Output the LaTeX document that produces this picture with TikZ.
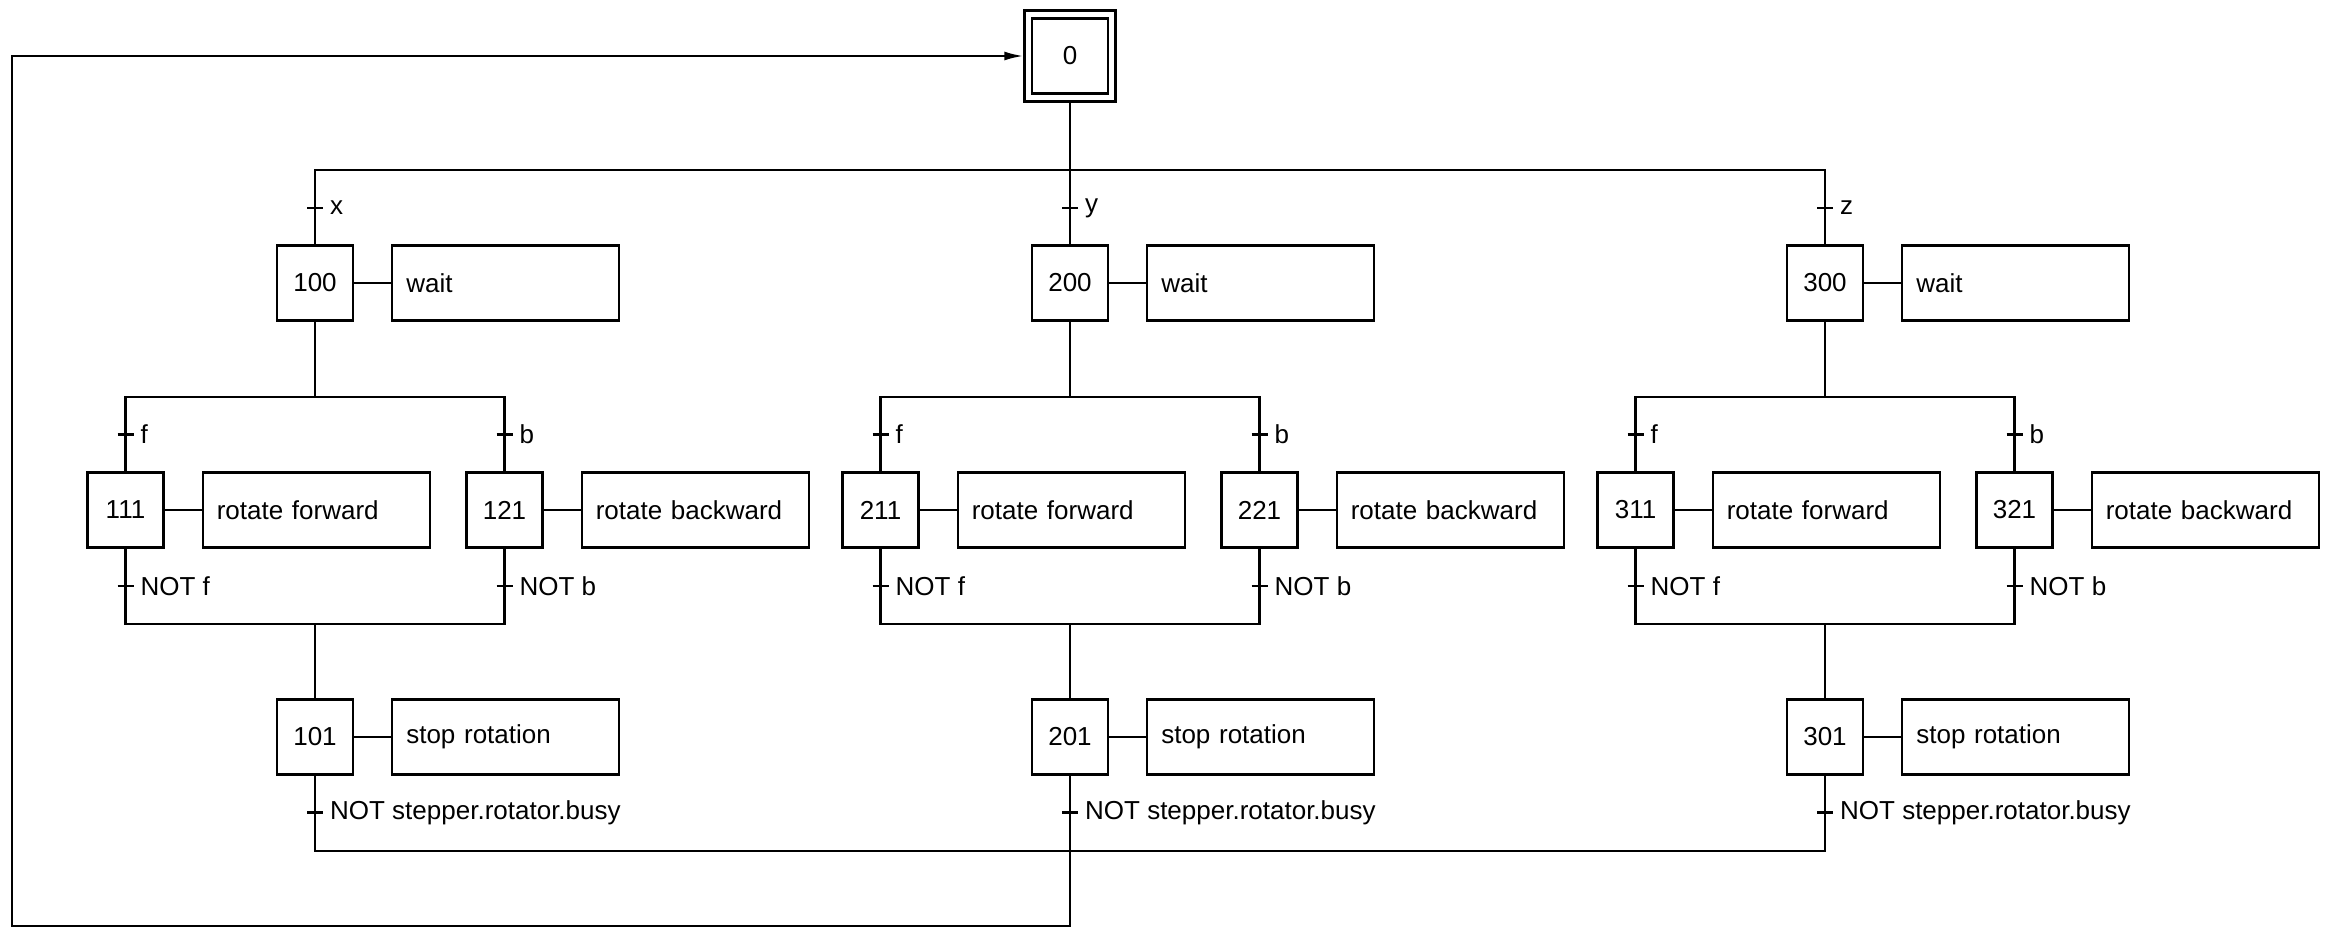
\documentclass[tikz,border=0pt]{standalone}
\usepackage{fontspec}
\setmainfont{Liberation Sans}
\usetikzlibrary{positioning,arrows.meta}
\tikzset{
  stepbox/.style={draw,minimum width=38pt,minimum height=37.5pt,inner sep=0pt},
  initbox/.style={draw,minimum width=45.5pt,minimum height=45.5pt,inner sep=0pt},
  actbox/.style={draw,minimum height=37.5pt,text width=99.5pt,inner xsep=7pt,
    inner ysep=0pt,align=left},
  cond/.style={right,inner sep=3pt}
}
\begin{document}
\begin{tikzpicture}[>={Latex[length=9.5pt,width=4.5pt]},x=0.5pt,y=-0.5pt,
    line width=1.15pt,font=\fontsize{13}{15}\selectfont]
    \useasboundingbox (0,0) rectangle (2328,937);
    % initial step
    \node[stepbox] (s0) at (1070,56) {0};
    \node[initbox] (s0o) at (s0) {};
    % first row
    \node[stepbox] (s100) at (315,283) {100};
    \node[actbox,right=18.5pt of s100] (a100) {wait};
    \node[stepbox] (s200) at (1070,283) {200};
    \node[actbox,right=18.5pt of s200] (a200) {wait};
    \node[stepbox] (s300) at (1825,283) {300};
    \node[actbox,right=18.5pt of s300] (a300) {wait};
    \draw (s100) -- (a100);
    \draw (s200) -- (a200);
    \draw (s300) -- (a300);
    \coordinate (top) at (1070,170);
    \draw (s0o) -- (s200);
    \draw (s100.north) |- (top) -| (s300.north);
    \draw (315,208) +(-8,0) -- +(8,0) node[cond]{x};
    \draw (1070,208) +(-8,0) -- +(8,0) node[cond]{y};
    \draw (1825,208) +(-8,0) -- +(8,0) node[cond]{z};
    % second row
    \node[stepbox] (s111) at (125.5,510) {111};
    \node[actbox,right=18.5pt of s111] (a111) {rotate forward};
    \node[stepbox] (s121) at (504.5,510) {121};
    \node[actbox,right=18.5pt of s121] (a121) {rotate backward};
    \node[stepbox] (s211) at (880.5,510) {211};
    \node[actbox,right=18.5pt of s211] (a211) {rotate forward};
    \node[stepbox] (s221) at (1259.5,510) {221};
    \node[actbox,right=18.5pt of s221] (a221) {rotate backward};
    \node[stepbox] (s311) at (1635.5,510) {311};
    \node[actbox,right=18.5pt of s311] (a311) {rotate forward};
    \node[stepbox] (s321) at (2014.5,510) {321};
    \node[actbox,right=18.5pt of s321] (a321) {rotate backward};
    \draw (s111) -- (a111);
    \draw (s121) -- (a121);
    \draw (s211) -- (a211);
    \draw (s221) -- (a221);
    \draw (s311) -- (a311);
    \draw (s321) -- (a321);
    \coordinate (d100) at (315,397);
    \coordinate (d200) at (1070,397);
    \coordinate (d300) at (1825,397);
    \draw (s100) -- (d100);
    \draw (s200) -- (d200);
    \draw (s300) -- (d300);
    \draw (s111.north) |- (d100) -| (s121.north);
    \draw (s211.north) |- (d200) -| (s221.north);
    \draw (s311.north) |- (d300) -| (s321.north);
    \draw (125.5,434.5) +(-8,0) -- +(8,0) node[cond]{f};
    \draw (504.5,434.5) +(-8,0) -- +(8,0) node[cond]{b};
    \draw (880.5,434.5) +(-8,0) -- +(8,0) node[cond]{f};
    \draw (1259.5,434.5) +(-8,0) -- +(8,0) node[cond]{b};
    \draw (1635.5,434.5) +(-8,0) -- +(8,0) node[cond]{f};
    \draw (2014.5,434.5) +(-8,0) -- +(8,0) node[cond]{b};
    \draw (125.5,586) +(-8,0) -- +(8,0) node[cond]{NOT f};
    \draw (504.5,586) +(-8,0) -- +(8,0) node[cond]{NOT b};
    \draw (880.5,586) +(-8,0) -- +(8,0) node[cond]{NOT f};
    \draw (1259.5,586) +(-8,0) -- +(8,0) node[cond]{NOT b};
    \draw (1635.5,586) +(-8,0) -- +(8,0) node[cond]{NOT f};
    \draw (2014.5,586) +(-8,0) -- +(8,0) node[cond]{NOT b};
    % third row
    \node[stepbox] (s101) at (315,737) {101};
    \node[actbox,right=18.5pt of s101] (a101) {stop rotation};
    \node[stepbox] (s201) at (1070,737) {201};
    \node[actbox,right=18.5pt of s201] (a201) {stop rotation};
    \node[stepbox] (s301) at (1825,737) {301};
    \node[actbox,right=18.5pt of s301] (a301) {stop rotation};
    \draw (s101) -- (a101);
    \draw (s201) -- (a201);
    \draw (s301) -- (a301);
    \coordinate (c100) at (315,624);
    \coordinate (c200) at (1070,624);
    \coordinate (c300) at (1825,624);
    \draw (s111.south) |- (c100) -| (s121.south);
    \draw (s211.south) |- (c200) -| (s221.south);
    \draw (s311.south) |- (c300) -| (s321.south);
    \draw (c100) -- (s101);
    \draw (c200) -- (s201);
    \draw (c300) -- (s301);
    \draw (315,812.5) +(-8,0) -- +(8,0) node[cond]{NOT stepper.rotator.busy};
    \draw (1070,812.5) +(-8,0) -- +(8,0) node[cond]{NOT stepper.rotator.busy};
    \draw (1825,812.5) +(-8,0) -- +(8,0) node[cond]{NOT stepper.rotator.busy};
    % back to the initial step
    \coordinate (bot) at (1070,851);
    \coordinate (loop) at (12,926);
    \draw (s101.south) |- (bot) -| (s301.south);
    \draw[->] (s201.south) |- (loop) |- (s0o.west);
\end{tikzpicture}
\end{document}
